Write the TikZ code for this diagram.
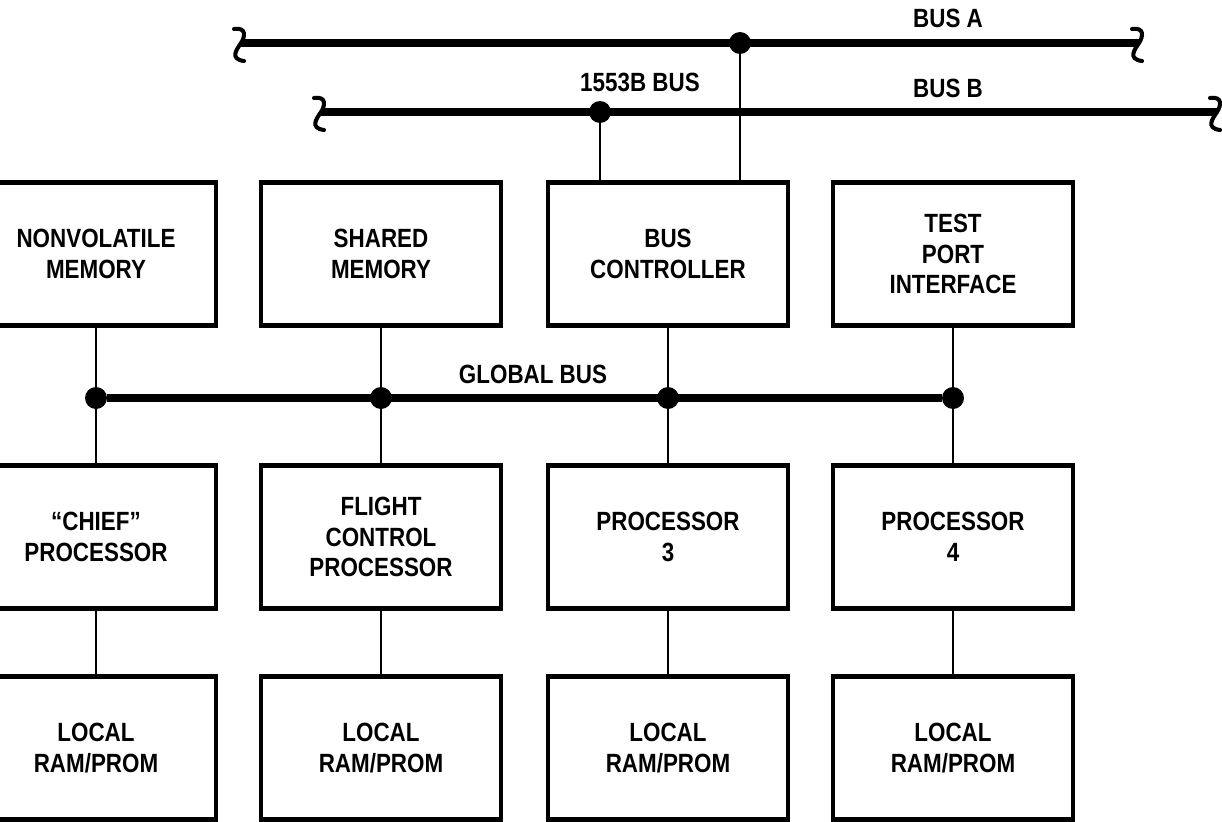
\documentclass[tikz,border=0pt]{standalone}
\usepackage{fontspec}
\setmainfont{Liberation Sans}[FakeStretch=0.85]
\usepackage{tikz}
\newcommand{\boxfont}{\fontsize{15}{17.5}\selectfont\bfseries}

\begin{document}
\begin{tikzpicture}[x=0.02cm, y=-0.02cm,
    box/.style={draw, line width=2.4pt, minimum width=4.8cm, minimum height=2.86cm, inner sep=0pt, align=center, font=\boxfont},
    junction/.style={circle, fill, inner sep=0pt, minimum size=0.44cm},
    bus/.style={line width=4.3pt},
    wire/.style={line width=1pt},
    squig/.style={line width=2.3pt, line cap=round},
    lbl/.style={font=\boxfont, inner sep=0pt}]
    % Page frame
    \useasboundingbox (0,0) rectangle (1222,821);
    \clip (0,0) rectangle (1222,821);

    % Top row
    \node[box] (nvmem) at (96,254) {NONVOLATILE\\MEMORY};
    \node[box] (shmem) at (381,254) {SHARED\\MEMORY};
    \node[box] (busctl) at (668,254) {BUS\\CONTROLLER};
    \node[box] (testport) at (953,254) {TEST\\PORT\\INTERFACE};

    % Processors
    \node[box] (chief) at (96,537) {``CHIEF''\\PROCESSOR};
    \node[box] (fcp) at (381,537) {FLIGHT\\CONTROL\\PROCESSOR};
    \node[box] (proc3) at (668,537) {PROCESSOR\\3};
    \node[box] (proc4) at (953,537) {PROCESSOR\\4};

    % Local memories
    \node[box] (ram1) at (96,748) {LOCAL\\RAM/PROM};
    \node[box] (ram2) at (381,748) {LOCAL\\RAM/PROM};
    \node[box] (ram3) at (668,748) {LOCAL\\RAM/PROM};
    \node[box] (ram4) at (953,748) {LOCAL\\RAM/PROM};

    % 1553B bus, A and B
    \coordinate (busAl) at (241,43);
    \coordinate (busAr) at (1139,43);
    \coordinate (busBl) at (321,112);
    \coordinate (busBr) at (1217,112);
    \node[junction] (dotA) at (740,43) {};
    \node[junction] (dotB) at (600,112) {};
    \draw[bus] (busAl) -- (busAr);
    \draw[bus] (busBl) -- (busBr);
    \foreach \e in {busAl, busAr, busBl, busBr}
        \draw[squig, shift={(\e)}] (-7,-14) .. controls (6,-16) and (4,-6) .. (0,0)
            .. controls (-4,6) and (-12,16) .. (3,18);
    \draw[wire] (dotA) -- (dotA |- busctl.north);
    \draw[wire] (dotB) -- (dotB |- busctl.north);

    \node[lbl] (labA) at (948,18) {BUS A};
    \node[lbl] (labB) at (948,88) {BUS B};
    \node[lbl] (lab1553) at (640,82) {1553B BUS};

    % Global bus
    \node[junction] (g1) at (96,398) {};
    \node[junction] (g2) at (381,398) {};
    \node[junction] (g3) at (668,398) {};
    \node[junction] (g4) at (953,398) {};
    \draw[bus] (g1) -- (g4);
    \node[lbl] (labglobal) at (533,374) {GLOBAL BUS};

    % Drops to each column
    \foreach \top/\dot/\cpu/\ram in {nvmem/g1/chief/ram1, shmem/g2/fcp/ram2, busctl/g3/proc3/ram3, testport/g4/proc4/ram4}
        \draw[wire] (\top) -- (\dot) -- (\cpu) -- (\ram);
\end{tikzpicture}
\end{document}
